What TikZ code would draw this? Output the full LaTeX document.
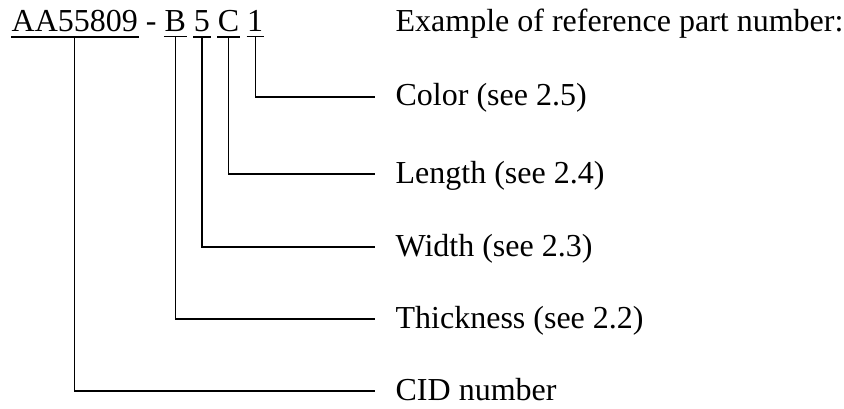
\documentclass[tikz,border=0pt]{standalone}
\usepackage{fontspec}
\setmainfont{Liberation Serif}
\begin{document}
\begin{tikzpicture}[x=1pt, y=1pt, line width=1.3pt,
		every node/.style={font=\fontsize{32}{38}\selectfont, inner xsep=0pt},
		code/.style={anchor=base west, inner ysep=4pt},
		field/.style={anchor=west, text height=18pt, text depth=0pt, inner xsep=20pt, inner ysep=0pt}]

		\useasboundingbox (0, 0) rectangle (844, 408);

		\node[code] (cid) at (11, 376) {AA55809\ };
		\node[code] (hyph) at (145.2, 376) {-};
		\node[code] (thk) at (163.9, 376) {B};
		\node[code] (wid) at (193.2, 376) {5};
		\node[code] (len) at (217.2, 376) {C};
		\node[code] (col) at (246.5, 376) {1};
		\node[anchor=base west, inner ysep=0pt] (title) at (395, 376) {Example of reference part number:};

		\node[field] (colf) at (375, 311) {Color (see 2.5)};
		\node[field] (lenf) at (375, 234) {Length (see 2.4)};
		\node[field] (widf) at (375, 161) {Width (see 2.3)};
		\node[field] (thkf) at (375, 89) {Thickness (see 2.2)};
		\node[field] (cidf) at (375, 17) {CID number};

		\foreach \n in {cid, thk, wid, len, col}
			\draw (\n.south west) -- (\n.south east);

		\draw (col.south) |- (colf.west);
		\draw (len.south) |- (lenf.west);
		\draw (wid.south) |- (widf.west);
		\draw (thk.south) |- (thkf.west);
		\draw (cid.south) |- (cidf.west);
	\end{tikzpicture}
\end{document}
